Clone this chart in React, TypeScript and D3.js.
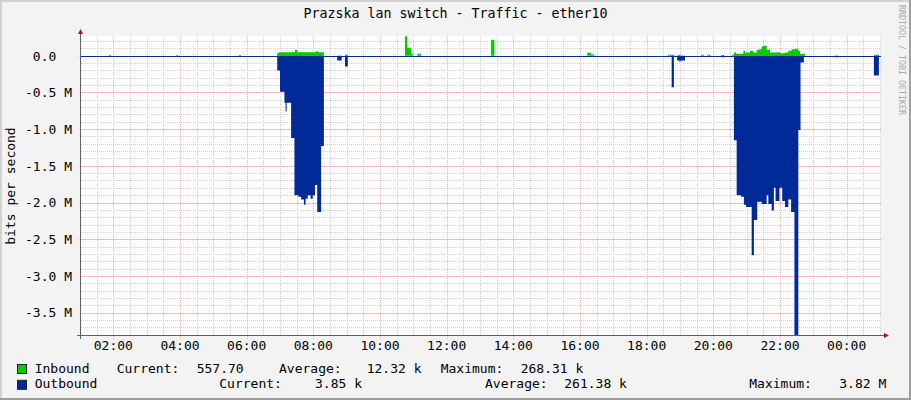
import * as d3 from "d3";

// time window of the graph (hours of the first day, 24h span)
const startHour = 1.03;
const spanHours = 24;

// [time, Mbit/s] steps; times before startHour belong to the next day
const inbound: [string, number][] = [
  ["01:02", 0],
  ["01:52", 0.008], ["01:56", 0],
  ["03:53", 0.008], ["03:57", 0],
  ["05:46", 0.008], ["05:50", 0],
  ["06:55", 0.037], ["06:58", 0.05], ["07:27", 0.082], ["07:31", 0.05], ["08:04", 0.06], ["08:10", 0.05], ["08:19", 0],
  ["08:57", 0.013], ["09:02", 0],
  ["10:45", 0.268], ["10:49", 0.11], ["10:56", 0.02], ["11:00", 0], ["11:07", 0.027], ["11:14", 0],
  ["13:20", 0.22], ["13:26", 0],
  ["16:13", 0.041], ["16:20", 0.018], ["16:26", 0],
  ["18:38", 0.014], ["18:50", 0], ["18:57", 0.014], ["19:01", 0],
  ["19:38", 0.014], ["19:43", 0], ["19:49", 0.014], ["19:55", 0],
  ["20:14", 0.01], ["20:20", 0],
  ["20:33", 0.014], ["20:37", 0.045], ["20:41", 0.027], ["20:54", 0.068], ["20:57", 0.045], ["21:06", 0.068],
  ["21:12", 0.045], ["21:18", 0.082], ["21:23", 0.091], ["21:27", 0.127], ["21:30", 0.137], ["21:36", 0.082],
  ["21:42", 0.045], ["21:51", 0.05], ["22:00", 0.036], ["22:09", 0.045], ["22:15", 0.068], ["22:21", 0.09],
  ["22:27", 0.095], ["22:33", 0.068], ["22:36", 0.027], ["22:45", 0],
  ["00:49", 0.014], ["00:58", 0],
];

const outbound: [string, number][] = [
  ["01:02", 0],
  ["01:52", -0.008], ["01:56", 0],
  ["03:53", -0.008], ["03:57", 0],
  ["05:46", -0.008], ["05:50", 0],
  ["06:55", -0.2], ["07:00", -0.49], ["07:08", -0.64], ["07:10", -0.76], ["07:12", -0.64], ["07:20", -1.12],
  ["07:26", -1.9], ["07:33", -1.92], ["07:38", -1.96], ["07:43", -2.03], ["07:46", -1.95], ["07:50", -1.9],
  ["07:55", -1.95], ["07:59", -1.9], ["08:03", -1.76], ["08:07", -2.13], ["08:14", -1.23], ["08:19", 0],
  ["08:43", -0.065], ["08:51", 0], ["08:57", -0.146], ["09:02", 0],
  ["18:45", -0.43], ["18:49", 0], ["18:55", -0.065], ["18:59", -0.08], ["19:01", -0.065], ["19:09", 0],
  ["20:14", -0.02], ["20:20", 0],
  ["20:37", -1.15], ["20:42", -1.9], ["20:50", -1.92], ["20:55", -2.03], ["20:59", -2.06], ["21:09", -2.72],
  ["21:13", -2.24], ["21:19", -1.99], ["21:27", -2.02], ["21:36", -1.9], ["21:39", -2.02], ["21:45", -2.11],
  ["21:49", -1.8], ["21:52", -1.98], ["21:59", -1.8], ["22:04", -1.98], ["22:09", -2.06], ["22:15", -1.96],
  ["22:20", -2.13], ["22:26", -3.82], ["22:33", -1.01], ["22:37", -0.09], ["22:43", 0],
  ["23:38", -0.02], ["23:45", 0],
  ["00:49", -0.27], ["00:58", 0],
];

const yMajorTicks = [0, -0.5, -1.0, -1.5, -2.0, -2.5, -3.0, -3.5];
const yTickLabels = ["0.0  ", "-0.5 M", "-1.0 M", "-1.5 M", "-2.0 M", "-2.5 M", "-3.0 M", "-3.5 M"];
const xTickHours = [2, 4, 6, 8, 10, 12, 14, 16, 18, 20, 22, 24];
const xTickLabels = ["02:00", "04:00", "06:00", "08:00", "10:00", "12:00", "14:00", "16:00", "18:00", "20:00", "22:00", "00:00"];

const legendNames = ["Inbound", "Outbound"];
const currentValues = ["557.70", "3.85 k"];
const averageValues = ["12.32 k", "261.38 k"];
const maximumValues = ["268.31 k", "3.82 M"];

const title = "Prazska lan switch - Traffic - ether10";
const yTitle = "bits per second";
const watermark = "RRDTOOL / TOBI OETIKER";

const GREEN = "#00CC00";
const BLUE = "#002A97";
const FONT = "'DejaVu Sans Mono', monospace";

// x positions of the legend pieces, per row
const legendLayout = [
  { cur: 116.7, curV: 196.7, avg: 279, avgV: 366.7, max: 440.7, maxV: 520.7, y: 372.5 },
  { cur: 219.3, curV: 315, avg: 485, avgV: 564.3, max: 749.3, maxV: 839.3, y: 388.3 },
];

const toHour = (t: string) => {
  const [hh, mm] = t.split(":").map(Number);
  const h = hh + mm / 60;
  return h < startHour ? h + 24 : h;
};

const App = () => {
  const W = 911;
  const H = 400;
  const left = 81, right = 881, top = 36, bottom = 336;

  const x = d3.scaleLinear().domain([startHour, startHour + spanHours]).range([left, right]);
  const y = d3.scaleLinear().domain([-3.82, 0.27]).range([bottom, top]);

  const toPoints = (s: [string, number][]) => {
    const pts = s.map(([t, v]) => ({ h: toHour(t), v }));
    pts.push({ h: startHour + spanHours, v: 0 });
    return pts;
  };
  const inPts = toPoints(inbound);
  const outPts = toPoints(outbound);

  const area = d3
    .area<{ h: number; v: number }>()
    .x((d) => x(d.h))
    .y0(y(0))
    .y1((d) => y(d.v))
    .curve(d3.curveStepAfter);

  const px = (v: number) => Math.round(v) + 0.5;

  const yMinor = d3.range(-38, 3).map((i) => i / 10).filter((v) => y(v) <= bottom && y(v) >= top);
  const xMinor = d3.range(Math.ceil(startHour * 2), Math.floor((startHour + spanHours) * 2) + 1).map((i) => i / 2);

  return (
    <svg
      width={W}
      height={H}
      style={{ position: "absolute", left: 0, top: 0 }}
      fontFamily={FONT}
    >
      <rect width={W} height={H} fill="#f3f3f3" />
      <rect x={0} y={0} width={W} height={2} fill="#d2d2d2" />
      <rect x={0} y={0} width={2} height={H} fill="#d2d2d2" />
      <rect x={W - 2} y={0} width={2} height={H} fill="#9e9e9e" />
      <rect x={0} y={H - 2} width={W} height={2} fill="#9e9e9e" />

      <rect x={left} y={top} width={right - left} height={bottom - top} fill="#ffffff" />

      {/* minor grid */}
      <g stroke="#d0d0d0" strokeDasharray="1,1" strokeWidth={1} shapeRendering="crispEdges">
        {yMinor.map((v) => (
          <line key={"ym" + v} x1={left} x2={right} y1={px(y(v))} y2={px(y(v))} />
        ))}
        {xMinor.map((h) => (
          <line key={"xm" + h} x1={px(x(h))} x2={px(x(h))} y1={top} y2={bottom} />
        ))}
      </g>
      {/* major grid */}
      <g stroke="#f2b4b4" strokeDasharray="1,1" strokeWidth={1} shapeRendering="crispEdges">
        {yMajorTicks.map((v) => (
          <line key={"yM" + v} x1={left - 3} x2={right} y1={px(y(v))} y2={px(y(v))} />
        ))}
        {xTickHours.map((h) => (
          <line key={"xM" + h} x1={px(x(h))} x2={px(x(h))} y1={top} y2={bottom + 3} />
        ))}
      </g>

      <path d={area(inPts) ?? ""} fill={GREEN} />
      <path d={area(outPts) ?? ""} fill={BLUE} />
      {/* zero line of the outbound series */}
      <line x1={left} x2={right} y1={px(y(0))} y2={px(y(0))} stroke={BLUE} shapeRendering="crispEdges" />

      {/* axes */}
      <line x1={80.5} x2={80.5} y1={bottom + 3} y2={top - 3} stroke="#606060" shapeRendering="crispEdges" />
      <line x1={left - 4} x2={right + 3} y1={bottom - 0.5} y2={bottom - 0.5} stroke="#606060" shapeRendering="crispEdges" />
      <path d="M78,34 L83,34 L80.5,29 Z" fill="#a01818" />
      <path d="M884,333 L884,338 L889,335.5 Z" fill="#a01818" />

      {/* labels */}
      <text x={455.5} y={18.3} textAnchor="middle" fontSize={13.3} fill="#000">
        {title}
      </text>
      {yMajorTicks.map((v, i) => (
        <text
          key={"yl" + v}
          x={72}
          y={y(v) + 4.7}
          textAnchor="end"
          fontSize={13}
          fill="#000"
          xmlSpace="preserve"
          style={{ whiteSpace: "pre" }}
        >
          {yTickLabels[i]}
        </text>
      ))}
      {xTickHours.map((h, i) => (
        <text key={"xl" + h} x={x(h)} y={350} textAnchor="middle" fontSize={13} fill="#000">
          {xTickLabels[i]}
        </text>
      ))}
      <text transform="translate(15,186) rotate(-90)" textAnchor="middle" fontSize={13} fill="#000">
        {yTitle}
      </text>
      <text transform="translate(898.5,60) rotate(90)" textAnchor="middle" fontSize={8.3} fill="#a8a8a8">
        {watermark}
      </text>

      {/* legend */}
      {legendNames.map((name, i) => {
        const L = legendLayout[i];
        return (
          <g key={name} fontSize={13} fill="#000">
            <rect x={17.5} y={L.y - 8} width={9} height={9} fill={i === 0 ? GREEN : BLUE} stroke="#222" />
            <text x={34.7} y={L.y}>{name}</text>
            <text x={L.cur} y={L.y}>Current:</text>
            <text x={L.curV} y={L.y}>{currentValues[i]}</text>
            <text x={L.avg} y={L.y}>Average:</text>
            <text x={L.avgV} y={L.y}>{averageValues[i]}</text>
            <text x={L.max} y={L.y}>Maximum:</text>
            <text x={L.maxV} y={L.y}>{maximumValues[i]}</text>
          </g>
        );
      })}
    </svg>
  );
};

export default App;
